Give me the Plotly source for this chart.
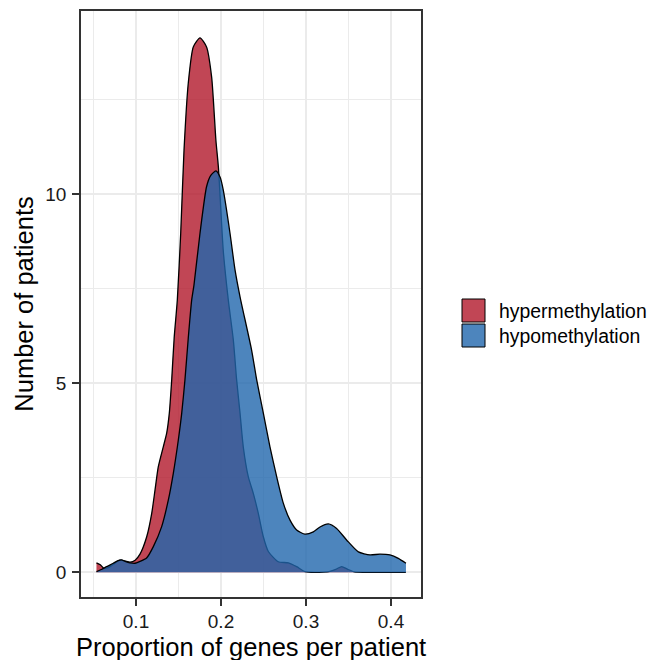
import plotly.graph_objects as go

# ---- data ----
hyper_x = [0.0535, 0.058, 0.062, 0.068, 0.074, 0.081, 0.087, 0.093, 0.099, 0.1047,
           0.1126, 0.1185, 0.1224, 0.1262, 0.1321, 0.1361, 0.1392, 0.142, 0.1449, 0.1486,
           0.1526, 0.1565, 0.1615, 0.1674, 0.1753, 0.183, 0.189, 0.194, 0.197, 0.2027,
           0.2086, 0.2145, 0.2184, 0.2224, 0.2262, 0.2321, 0.238, 0.2439, 0.2498, 0.2557,
           0.2674, 0.2792, 0.289, 0.2988, 0.31, 0.325, 0.335, 0.342, 0.349, 0.357,
           0.37, 0.4175]
hyper_y = [0.25, 0.2, 0.11, 0.13, 0.22, 0.32, 0.30, 0.27, 0.32, 0.48,
           0.94, 1.56, 2.18, 2.79, 3.32, 3.68, 4.21, 5.09, 6.2, 7.2,
           8.97, 11.17, 12.94, 13.9, 14.14, 13.9, 13.1, 11.43, 10.7, 8.5,
           7.2, 6.15, 5.09, 4.21, 3.32, 2.53, 2.09, 1.56, 0.94, 0.55,
           0.28, 0.25, 0.15, 0.02, 0.0, 0.01, 0.08, 0.15, 0.08, 0.01,
           0.0, 0.0]

hypo_x = [0.0535, 0.06, 0.0655, 0.0733, 0.079, 0.083, 0.088, 0.093, 0.0988, 0.1047,
          0.1086, 0.1125, 0.1204, 0.1302, 0.138, 0.1439, 0.1498, 0.1538, 0.1576, 0.1615,
          0.1655, 0.1682, 0.1753, 0.183, 0.188, 0.194, 0.199, 0.2027, 0.2106, 0.2165,
          0.2224, 0.236, 0.242, 0.2498, 0.2576, 0.2655, 0.2733, 0.2812, 0.289, 0.2988,
          0.3086, 0.3165, 0.3263, 0.336, 0.348, 0.3616, 0.3753, 0.387, 0.3988, 0.4086,
          0.4176]
hypo_y = [0.02, 0.08, 0.15, 0.24, 0.31, 0.33, 0.28, 0.25, 0.24, 0.29,
          0.33, 0.38, 0.68, 1.21, 1.91, 2.62, 3.5, 4.21, 5.09, 6.2,
          7.2, 7.6, 8.97, 10.2, 10.5, 10.62, 10.45, 10.11, 8.97, 8.0,
          7.29, 5.88, 5.09, 4.21, 3.32, 2.53, 1.83, 1.38, 1.12, 1.01,
          1.07, 1.2, 1.28, 1.16, 0.85, 0.54, 0.46, 0.48, 0.46, 0.37,
          0.24]

series_names = ["hypermethylation", "hypomethylation"]
series_colors = ["rgba(178,24,43,0.8)", "rgba(33,102,172,0.8)"]

x_ticks = [0.1, 0.2, 0.3, 0.4]
y_ticks = [0, 5, 10]
x_title = "Proportion of genes per patient"
y_title = "Number of patients"

FONT = "Liberation Sans, Arial, Helvetica, sans-serif"

fig = go.Figure()
for xs, ys, name, col in [(hyper_x, hyper_y, series_names[0], series_colors[0]),
                          (hypo_x, hypo_y, series_names[1], series_colors[1])]:
    fig.add_trace(go.Scatter(
        x=xs, y=ys, name=name, mode="lines",
        line=dict(color="black", width=1.3, shape="spline", smoothing=0.6),
        fill="tozeroy", fillcolor=col, showlegend=False,
    ))

L, R, T, B = 81, 229, 11, 63
W, H = 650, 660
pw, ph = W - L - R, H - T - B

def px2paper_x(px):
    return (px - L) / pw

def px2paper_y(py):
    return (H - B - py) / ph

# manual legend (ggplot-style square keys)
shapes = []
annotations = []
key_tops = [299, 324]
for i, (name, col) in enumerate(zip(series_names, series_colors)):
    y0p = key_tops[i]
    shapes.append(dict(type="rect", xref="paper", yref="paper",
                       x0=px2paper_x(462), x1=px2paper_x(485),
                       y0=px2paper_y(y0p + 23), y1=px2paper_y(y0p),
                       fillcolor=col, line=dict(color="black", width=1)))
    annotations.append(dict(xref="paper", yref="paper",
                            x=px2paper_x(497), y=px2paper_y(y0p + 11.5),
                            xanchor="left", yanchor="middle", showarrow=False,
                            text=name, font=dict(family=FONT, size=19.4, color="black")))

# x-axis title placed as in the reference
annotations.append(dict(xref="paper", yref="paper", x=0.5, y=px2paper_y(647),
                        xanchor="center", yanchor="middle", showarrow=False,
                        text=x_title, font=dict(family=FONT, size=25.5, color="black")))

fig.update_layout(
    width=W, height=H,
    margin=dict(l=L, r=R, t=T, b=B, pad=0),
    paper_bgcolor="white", plot_bgcolor="white",
    showlegend=False,
    font=dict(family=FONT),
    shapes=shapes, annotations=annotations,
    xaxis=dict(
        range=[0.0353, 0.4353], tickvals=x_ticks, ticktext=[str(v) for v in x_ticks],
        showgrid=True, gridcolor="#EBEBEB", gridwidth=2.2,
        minor=dict(dtick=0.05, tick0=0, showgrid=True, gridcolor="#EBEBEB", gridwidth=1.3),
        zeroline=False, showline=True, mirror=True, linecolor="#333333", linewidth=1.5,
        ticks="outside", ticklen=7, tickwidth=2, tickcolor="#333333",
        tickfont=dict(family=FONT, size=19, color="#1a1a1a"),
        ticklabelstandoff=-1,
        automargin=False,
    ),
    yaxis=dict(
        range=[-0.653, 14.85], tickvals=y_ticks, ticktext=[str(v) for v in y_ticks],
        showgrid=True, gridcolor="#EBEBEB", gridwidth=2.2,
        minor=dict(dtick=2.5, tick0=0, showgrid=True, gridcolor="#EBEBEB", gridwidth=1.3),
        zeroline=False, showline=True, mirror=True, linecolor="#333333", linewidth=1.5,
        ticks="outside", ticklen=7, tickwidth=2, tickcolor="#333333",
        tickfont=dict(family=FONT, size=19, color="#1a1a1a"),
        ticklabelstandoff=2,
        title=dict(text=y_title,
                   font=dict(family=FONT, size=25.5, color="black"), standoff=4),
        automargin=False,
    ),
)

fig.write_html("out.html", config={"displayModeBar": False},
               post_script="document.body.style.margin='0';document.body.style.padding='0';")
